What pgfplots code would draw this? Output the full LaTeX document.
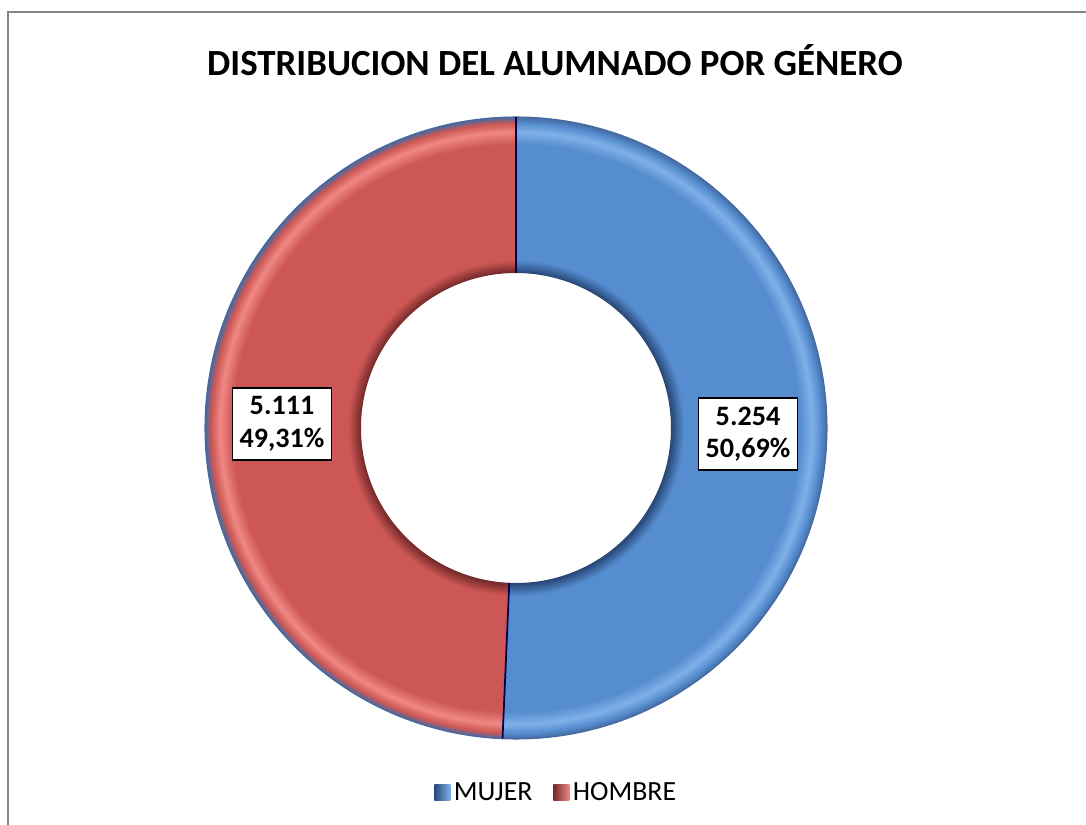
\documentclass[border=0pt]{standalone}
\usepackage{fontspec}
\setmainfont{Carlito}
\usepackage{pgfplots}
\pgfplotsset{compat=1.18}
\usepackage{pgfplotstable}
\usetikzlibrary{calc}

\definecolor{mujer}{RGB}{85,141,208}
\definecolor{mujerlt}{RGB}{128,176,232}
\definecolor{mujerdk}{RGB}{40,72,120}
\definecolor{hombre}{RGB}{205,87,84}
\definecolor{hombrelt}{RGB}{240,136,132}
\definecolor{hombredk}{RGB}{115,42,42}
\definecolor{rim}{RGB}{70,105,160}
\definecolor{frame}{RGB}{134,134,134}

\pgfplotstableread{
genero valor pct
MUJER  5254  50.69
HOMBRE 5111  49.31
}\datos
\pgfplotstablegetelem{0}{valor}\of\datos \let\vm\pgfplotsretval
\pgfplotstablegetelem{1}{valor}\of\datos \let\vh\pgfplotsretval
\pgfmathsetmacro\frac{\vm/(\vm+\vh)}
\pgfmathsetmacro\split{90-360*\frac}

% 25bp = outer radius, 12.5bp = hole
\pgfdeclareradialshading{bevmujer}{\pgfpoint{0bp}{0bp}}{%
  color(0bp)=(mujerdk); color(12.5bp)=(mujerdk); color(13.5bp)=(mujer);
  color(22.8bp)=(mujer); color(23.8bp)=(mujerlt); color(24.5bp)=(mujer);
  color(25bp)=(rim); color(50bp)=(rim)}
\pgfdeclareradialshading{bevhombre}{\pgfpoint{0bp}{0bp}}{%
  color(0bp)=(hombredk); color(12.5bp)=(hombredk); color(13.5bp)=(hombre);
  color(22.8bp)=(hombre); color(23.8bp)=(hombrelt); color(24.5bp)=(hombre);
  color(25bp)=(rim); color(50bp)=(rim)}

\def\Ro{6.22cm}
\def\Ri{3.1cm}
\newcommand\ringpart[3]{%
  \begin{scope}
    \clip (c) ++(#1:\Ro) arc[start angle=#1,end angle=#2,radius=\Ro]
      -- ($(c)+(#2:\Ri)$) arc[start angle=#2,end angle=#1,radius=\Ri] -- cycle;
    \shade[shading=#3] (c) circle[radius=\Ro];
  \end{scope}}

\begin{document}
\begin{tikzpicture}
\begin{axis}[scale only axis, width=21.72cm, height=16.5cm,
  xmin=0, xmax=1086, ymin=0, ymax=825, hide axis, clip=false,
  legend columns=2,
  legend style={at={(axis cs:557,32)}, anchor=center, draw=none,
    font=\fontsize{15.8}{18}\selectfont,
    /tikz/every even column/.append style={column sep=0.35cm}},
  legend image code/.code={\path[#1] (0cm,-0.16cm) rectangle (0.32cm,0.16cm);}]
\addlegendimage{left color=mujerdk, right color=mujerlt, draw=none}
\addlegendentry{MUJER}
\addlegendimage{left color=hombredk, right color=hombrelt, draw=none}
\addlegendentry{HOMBRE}

\coordinate (c) at (axis cs:516,397);
\ringpart{90}{\split}{bevmujer}
\ringpart{\split}{-270}{bevhombre}
\draw[rim, line width=0.6pt] (c) circle[radius=\Ro];
\draw[black!70!blue, line width=1pt] ($(c)+(90:\Ri)$) -- ($(c)+(90:\Ro)$);
\draw[black!70!blue, line width=1pt] ($(c)+(\split:\Ri)$) -- ($(c)+(\split:\Ro)$);

\node[draw=black, line width=1.1pt, fill=white, align=center,
  minimum width=1.98cm, minimum height=1.44cm, inner sep=1pt,
  font=\bfseries\fontsize{16}{18.5}\selectfont] at (axis cs:748,391) {5.254\\50,69\%};
\node[draw=black, line width=1.1pt, fill=white, align=center,
  minimum width=1.98cm, minimum height=1.44cm, inner sep=1pt,
  font=\bfseries\fontsize{16}{18.5}\selectfont] at (axis cs:282,401) {5.111\\49,31\%};

\node[font=\bfseries\fontsize{21}{25}\selectfont] at (axis cs:555,765)
  {DISTRIBUCION DEL ALUMNADO POR GÉNERO};

\draw[frame, line width=1.2pt] (axis cs:8,0) -- (axis cs:8,813) -- (axis cs:1086,813);
\end{axis}
\pgfresetboundingbox
\path[use as bounding box] (current axis.south west) rectangle (current axis.north east);
\end{tikzpicture}
\end{document}
